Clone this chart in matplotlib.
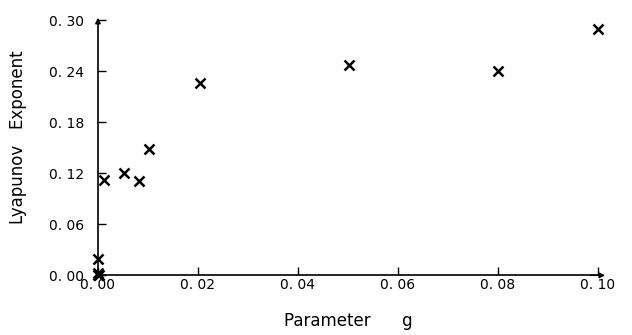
import matplotlib.pyplot as plt
import numpy as np

# data
g = [0.0, 0.0002, 0.0, 0.0, 0.0012, 0.0052, 0.0083, 0.0103, 0.0204, 0.0502, 0.080, 0.100]
lyap = [0.0, 0.0, 0.003, 0.019, 0.112, 0.120, 0.111, 0.149, 0.226, 0.247, 0.240, 0.290]

x_ticks = [0.0, 0.02, 0.04, 0.06, 0.08, 0.10]
x_labels = ['0. 00', '0. 02', '0. 04', '0. 06', '0. 08', '0. 10']
y_ticks = [0.0, 0.06, 0.12, 0.18, 0.24, 0.30]
y_labels = ['0. 00', '0. 06', '0. 12', '0. 18', '0. 24', '0. 30']

plt.rcParams['font.family'] = ['DejaVu Sans']
fig = plt.figure(figsize=(6.32, 3.35), dpi=100)
ax = fig.add_axes([0.155, 0.178, 0.791, 0.762])

ax.plot(g, lyap, linestyle='none', marker='x', color='black', markersize=7, markeredgewidth=1.8, clip_on=False)

ax.set_xlim(0, 0.10)
ax.set_ylim(0, 0.30)
ax.set_xticks(x_ticks)
ax.set_xticklabels(x_labels, fontsize=10)
ax.set_yticks(y_ticks)
ax.set_yticklabels(y_labels, fontsize=10)
ax.tick_params(direction='in', length=6, width=1)
ax.tick_params(axis='x', pad=2)
ax.tick_params(axis='y', pad=10)

for s in ['top', 'right']:
    ax.spines[s].set_visible(False)
for s in ['left', 'bottom']:
    ax.spines[s].set_linewidth(1.2)

# little arrowheads at the axis ends
ax.annotate('', xy=(1.02, 0), xytext=(0.98, 0), xycoords='axes fraction',
            arrowprops=dict(arrowstyle='-|>', color='black', lw=1, mutation_scale=8))
ax.annotate('', xy=(0, 1.02), xytext=(0, 0.98), xycoords='axes fraction',
            arrowprops=dict(arrowstyle='-|>', color='black', lw=1, mutation_scale=8))

ax.set_xlabel('Parameter      g', fontsize=12, labelpad=14)
ax.set_ylabel('Lyapunov   Exponent', fontsize=12)
ax.yaxis.set_label_coords(-0.142, 0.542)

plt.savefig('out.png', dpi=100)
